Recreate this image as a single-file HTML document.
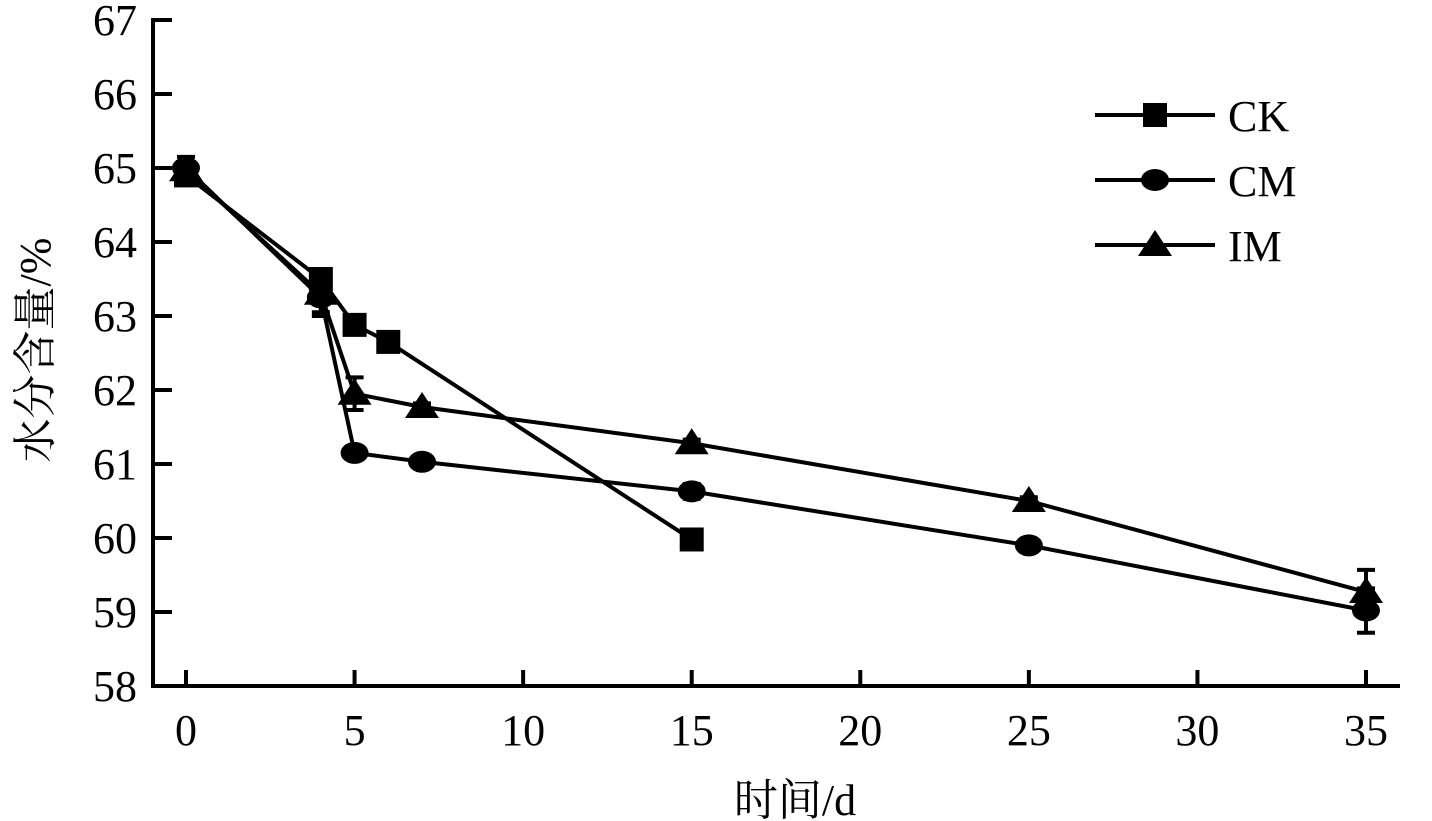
<!DOCTYPE html>
<html><head><meta charset="utf-8"><style>
body{margin:0;background:#fff}
svg{display:block}
text{font-family:"Liberation Serif","Noto Serif CJK SC",serif;fill:#000}
</style></head><body>
<svg id="chart" width="1432" height="821" viewBox="0 0 1432 821" xmlns="http://www.w3.org/2000/svg"></svg>
<script>
const xTicks=[0,5,10,15,20,25,30,35];
const yTicks=[58,59,60,61,62,63,64,65,66,67];
const ckX=[0,4,5,6,15];
const ckY=[64.9,63.5,62.88,62.65,59.98];
const ckErr=[0.05,0.05,0.03,0.03,0.03];
const cmX=[0,4,5,7,15,25,35];
const cmY=[65.0,63.25,61.15,61.03,60.63,59.9,59.02];
const cmErr=[0.15,0.2,0.03,0.03,0.1,0.03,0.3];
const imX=[0,4,5,7,15,25,35];
const imY=[64.97,63.3,61.95,61.77,61.28,60.5,59.27];
const imErr=[0.1,0.3,0.22,0.05,0.05,0.05,0.3];
const X=v=>186+v*(1366-186)/35;
const Y=v=>686-(v-58)*74;
const svg=document.getElementById('chart');
const NS='http://www.w3.org/2000/svg';
function mk(tag,attrs,parent){const e=document.createElementNS(NS,tag);for(const k in attrs)e.setAttribute(k,attrs[k]);(parent||svg).appendChild(e);return e;}
// axes
let a=mk('path',{d:'M153,18 V686 H1400',fill:'none',stroke:'#000','stroke-width':4});


xTicks.forEach(t=>{
 const l=mk('line',{x1:X(t),x2:X(t),y1:686,y2:670,stroke:'#000','stroke-width':4});
 
 
 const tx=mk('text',{x:X(t),y:745,'text-anchor':'middle','font-size':44});
 tx.textContent=t;
 
 
});
yTicks.forEach(t=>{
 const l=mk('line',{x1:153,x2:172,y1:Y(t),y2:Y(t),stroke:'#000','stroke-width':4});
 
 
 const tx=mk('text',{x:137,y:Y(t)+15,'text-anchor':'end','font-size':44});
 tx.textContent=t;
 
 
});
function marker(kind,cx,cy,name){
 let m;
 if(kind==='sq')m=mk('rect',{x:cx-12,y:cy-12,width:24,height:24,fill:'#000'});
 else if(kind==='ci')m=mk('ellipse',{cx:cx,cy:cy,rx:14,ry:11,fill:'#000'});
 else m=mk('polygon',{points:`${cx},${cy-15} ${cx-17},${cy+11} ${cx+17},${cy+11}`,fill:'#000'});
 
 
}
function series(xs,ys,es,kind,name){
 const p=mk('polyline',{points:xs.map((x,i)=>X(x)+','+Y(ys[i])).join(' '),fill:'none',stroke:'#000','stroke-width':4,'stroke-linejoin':'round'});
 
 
 xs.forEach((x,i)=>{
  const cx=X(x),t=Y(ys[i]+es[i]),b=Y(ys[i]-es[i]);
  const e=mk('path',{d:`M${cx},${t}V${b}M${cx-9},${t}H${cx+9}M${cx-9},${b}H${cx+9}`,stroke:'#000','stroke-width':4,fill:'none'});
  
  
  marker(kind,cx,Y(ys[i]),name+'-point');
 });
}
series(ckX,ckY,ckErr,'sq','ck');
series(cmX,cmY,cmErr,'ci','cm');
series(imX,imY,imErr,'tr','im');
// legend
[['CK','sq',115],['CM','ci',180],['IM','tr',245]].forEach(([lab,k,y])=>{
 const l=mk('line',{x1:1095,x2:1215,y1:y,y2:y,stroke:'#000','stroke-width':4});
 
 
 marker(k,1155,y,'legend-marker');
 const t=mk('text',{x:1228,y:y+16,'font-size':44});
 t.textContent=lab;
 
 
});
const xt=mk('text',{x:795,y:815,'text-anchor':'middle','font-size':44});
xt.textContent='时间/d';


const yt=mk('text',{x:0,y:0,'text-anchor':'middle','font-size':44,transform:'translate(50,350) rotate(-90)'});
yt.textContent='水分含量/%';


</script>
</body></html>
